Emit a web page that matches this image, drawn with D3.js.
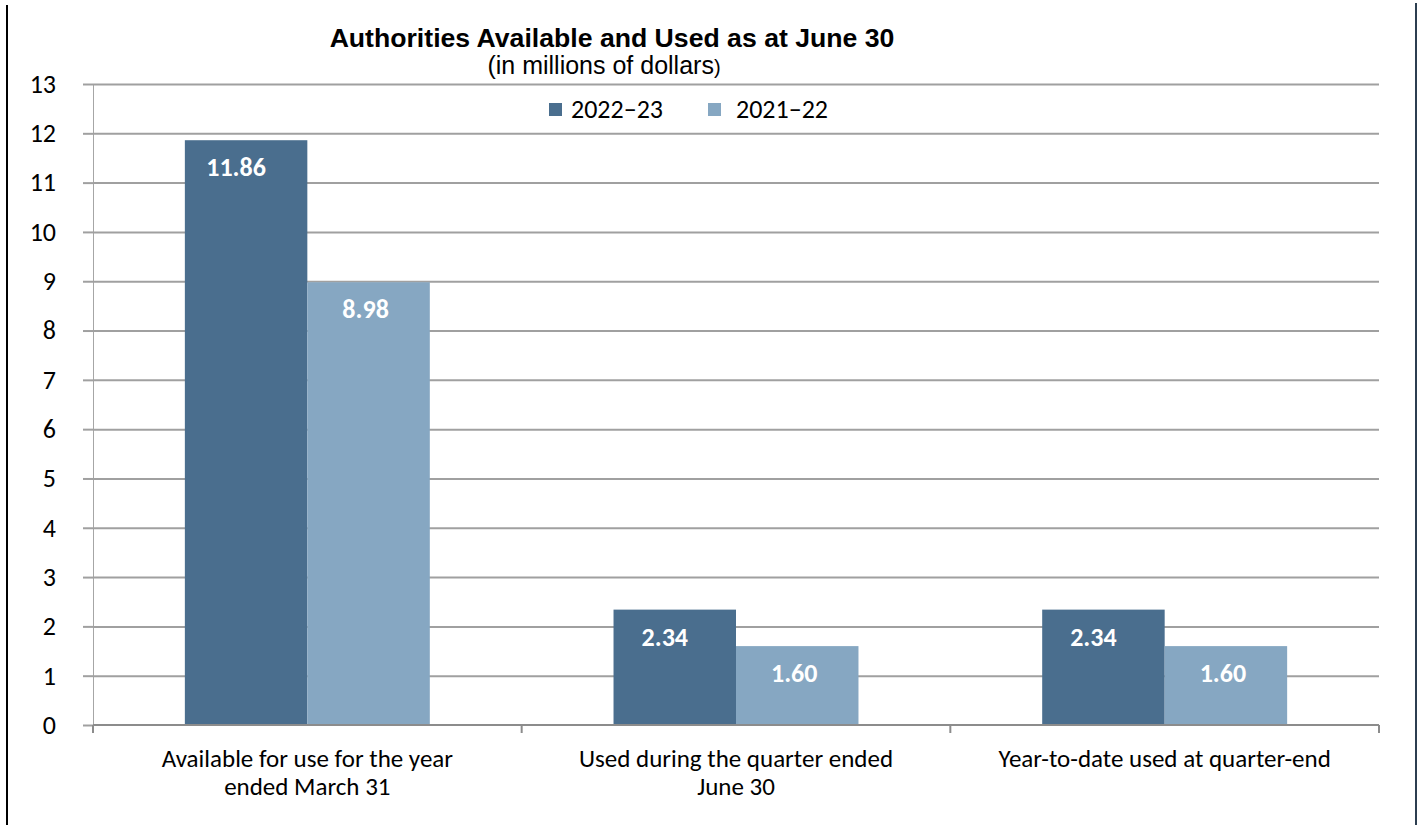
<!DOCTYPE html>
<html>
<head>
<meta charset="utf-8">
<script src="https://cdn.jsdelivr.net/npm/d3@7"></script>
<style>
  body { margin: 0; background: #fff; }
  svg { display: block; }
</style>
</head>
<body>
<svg id="chart"></svg>
<script>
const categories = [
  ["Available for use for the year", "ended March 31"],
  ["Used during the quarter ended", "June 30"],
  ["Year-to-date used at quarter-end"]
];
const series = ["2022\u201323", "2021\u201322"];
const values2223 = [11.86, 2.34, 2.34];
const values2122 = [8.98, 1.60, 1.60];
const yTicks = [0,1,2,3,4,5,6,7,8,9,10,11,12,13];
const colors = ["#4a6e8e", "#86a7c2"];

const width = 1421, height = 825;
const plotLeft = 93, plotRight = 1379, plotTop = 84, plotBottom = 725;
const calibri = "Carlito, Lato, 'Open Sans', sans-serif";
const arial = "Arial, 'Liberation Sans', sans-serif";

const svg = d3.select("#chart").attr("width", width).attr("height", height);

// frame lines on the sides
svg.append("line").attr("x1", 7).attr("x2", 7).attr("y1", 5).attr("y2", height)
  .attr("stroke", "#000").attr("stroke-width", 2);
svg.append("line").attr("x1", 1416).attr("x2", 1416).attr("y1", 3).attr("y2", height)
  .attr("stroke", "#2c3e50").attr("stroke-width", 2);

const y = d3.scaleLinear().domain([0, 13]).range([plotBottom, plotTop]);
const x0 = d3.scaleBand().domain(d3.range(categories.length)).range([plotLeft, plotRight]);
const x1 = d3.scaleBand().domain(series).range([0, x0.bandwidth()]).paddingOuter(0.75);

// gridlines + ticks
const yAxis = svg.append("g").attr("transform", "translate(" + plotLeft + ",0)")
  .call(d3.axisLeft(y).tickValues(yTicks).tickSize(10).tickPadding(27).tickFormat(d3.format("d")));
yAxis.select(".domain").attr("stroke", "#a6a6a6").attr("stroke-width", 1);
yAxis.selectAll(".tick line").attr("stroke", "#a0a0a0").attr("stroke-width", 2);
yAxis.selectAll(".tick text").attr("font-family", calibri)
  .attr("font-size", 26).attr("fill", "#000");
yAxis.selectAll(".tick").filter(d => d > 0).append("line")
  .attr("x1", 0).attr("x2", plotRight - plotLeft)
  .attr("stroke", "#a0a0a0").attr("stroke-width", 2);

// bars
const data = categories.map((c, i) => ({ i, vals: [values2223[i], values2122[i]] }));
const groups = svg.selectAll(".grp").data(data).enter().append("g")
  .attr("transform", d => "translate(" + x0(d.i) + ",0)");
groups.selectAll("rect").data(d => d.vals.map((v, k) => ({ v, k })))
  .enter().append("rect")
  .attr("x", d => x1(series[d.k]))
  .attr("width", x1.bandwidth())
  .attr("y", d => y(d.v))
  .attr("height", d => y(0) - y(d.v))
  .attr("fill", d => colors[d.k]);
groups.selectAll(".lbl").data(d => d.vals.map((v, k) => ({ v, k })))
  .enter().append("text")
  .attr("x", d => x1(series[d.k]) + x1.bandwidth() / 2 - (d.k === 0 ? 10 : 3))
  .attr("y", d => y(d.v) + 36)
  .attr("text-anchor", "middle")
  .attr("font-family", calibri)
  .attr("font-weight", "bold").attr("font-size", 26).attr("fill", "#fff")
  .text(d => d.v.toFixed(2));

// x axis
const xAxis = svg.append("g").attr("transform", "translate(0," + plotBottom + ")");
xAxis.append("line").attr("x1", plotLeft).attr("x2", plotRight)
  .attr("stroke", "#8c8c8c").attr("stroke-width", 2);
xAxis.selectAll(".xt").data(d3.range(categories.length + 1)).enter().append("line")
  .attr("x1", i => i < categories.length ? x0(i) : plotRight)
  .attr("x2", i => i < categories.length ? x0(i) : plotRight)
  .attr("y1", 0).attr("y2", 8)
  .attr("stroke", "#8c8c8c").attr("stroke-width", 2);
categories.forEach((lines, i) => {
  lines.forEach((l, j) => xAxis.append("text")
    .attr("x", x0(i) + x0.bandwidth() / 2).attr("y", 42 + j * 28)
    .attr("text-anchor", "middle")
    .attr("font-family", calibri)
    .attr("font-size", 25).attr("fill", "#000").text(l));
});

// title
function fit(sel, target) {
  const w = sel.node().getComputedTextLength();
  sel.attr("font-size", +sel.attr("font-size") * target / w);
}
const title = svg.append("text").attr("x", 612).attr("y", 47).attr("text-anchor", "middle")
  .attr("font-family", arial).attr("font-weight", "bold").attr("font-size", 26)
  .text("Authorities Available and Used as at June 30");
fit(title, 565);
const sub = svg.append("text").attr("x", 604).attr("y", 74).attr("text-anchor", "middle")
  .attr("font-family", arial).attr("font-size", 25);
sub.append("tspan").text("(in millions of dollars");
sub.append("tspan").attr("font-size", "0.8em").text(")");

// legend
const legendX = [549, 708];
const legend = svg.selectAll(".leg").data(series).enter().append("g")
  .attr("transform", (d, i) => "translate(" + legendX[i] + ",103)");
legend.append("rect").attr("width", 13).attr("height", 13).attr("fill", (d, i) => colors[i]);
legend.append("text").attr("x", (d, i) => i === 0 ? 22 : 28).attr("y", 15)
  .attr("font-family", calibri)
  .attr("font-size", 26).text(d => d);
</script>
</body>
</html>
